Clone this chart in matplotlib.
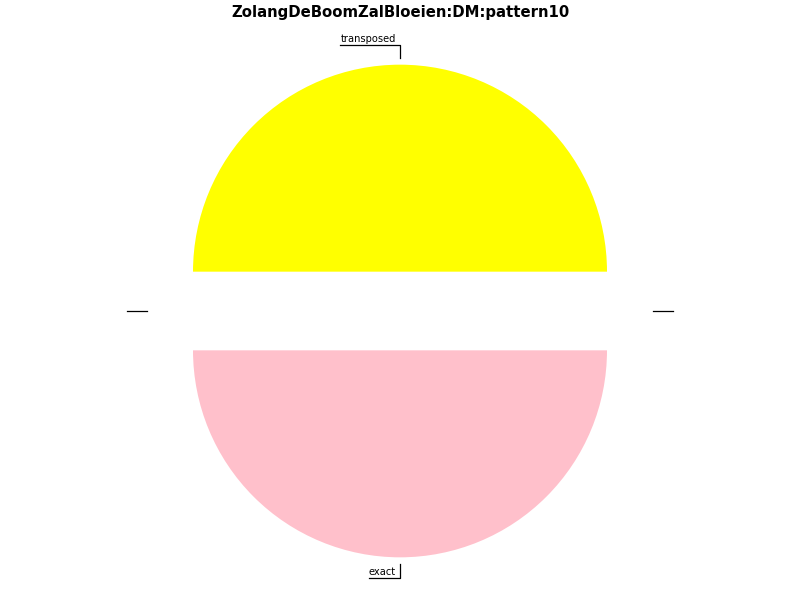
import numpy as np
import matplotlib
matplotlib.use("Agg")
import matplotlib.pyplot as plt

# -----------------------------------------------
# Data
# -----------------------------------------------
labels  = ["transposed", "", "exact", ""]
values  = [1, 0, 1, 0]
colors  = ["yellow", "white", "pink", "white"]
explode = [0.19, 0.0, 0.19, 0.0]

TITLE = "ZolangDeBoomZalBloeien:DM:pattern10"

# -----------------------------------------------
# Figure: one data unit = 207 px, pie centre at (400, 311) px
# -----------------------------------------------
fig = plt.figure(figsize=(8, 6), dpi=100)
ax = fig.add_axes([0, 0, 1, 1])
R = 207.0

wedges, _ = ax.pie(values, colors=colors, explode=explode, startangle=0,
                   counterclock=True, frame=False, radius=1.0, center=(0, 0))

# pie() resets the limits, so set them afterwards
ax.set_xlim(-400 / R, 400 / R)
ax.set_ylim(-289 / R, 311 / R)
ax.set_aspect("equal")
ax.axis("off")

fig.canvas.draw()
renderer = fig.canvas.get_renderer()

# -----------------------------------------------
# Leader lines with underlined labels
# -----------------------------------------------
for w, lbl in zip(wedges, labels):
    ang = np.deg2rad((w.theta1 + w.theta2) / 2.0)
    cx, cy = np.cos(ang), np.sin(ang)
    px, py = 1.22 * cx, 1.22 * cy
    if abs(cx) > 0.5:
        # side label: short horizontal tick outward
        tx = px + np.sign(cx) * 0.097
        ty = py
        ax.plot([px, tx], [py, ty], color="black", lw=0.9)
        if lbl:
            ax.text(tx, ty, lbl, fontsize=7, ha="right" if cx < 0 else "left",
                    va="bottom")
    else:
        ty = 1.285 * np.sign(cy) - (0.005 if cy < 0 else 0)
        t = ax.text(px - 0.02, ty + 0.006, lbl, fontsize=7.1, ha="right",
                    va="bottom")
        bb = t.get_window_extent(renderer).transformed(ax.transData.inverted())
        ax.plot([bb.x0, px, px], [ty, ty, py], color="black", lw=0.9)

fig.text(0.5, 1 - 13 / 600, TITLE, ha="center", va="center",
         fontsize=10.75, fontweight="bold")

fig.savefig("out.png", dpi=100)
